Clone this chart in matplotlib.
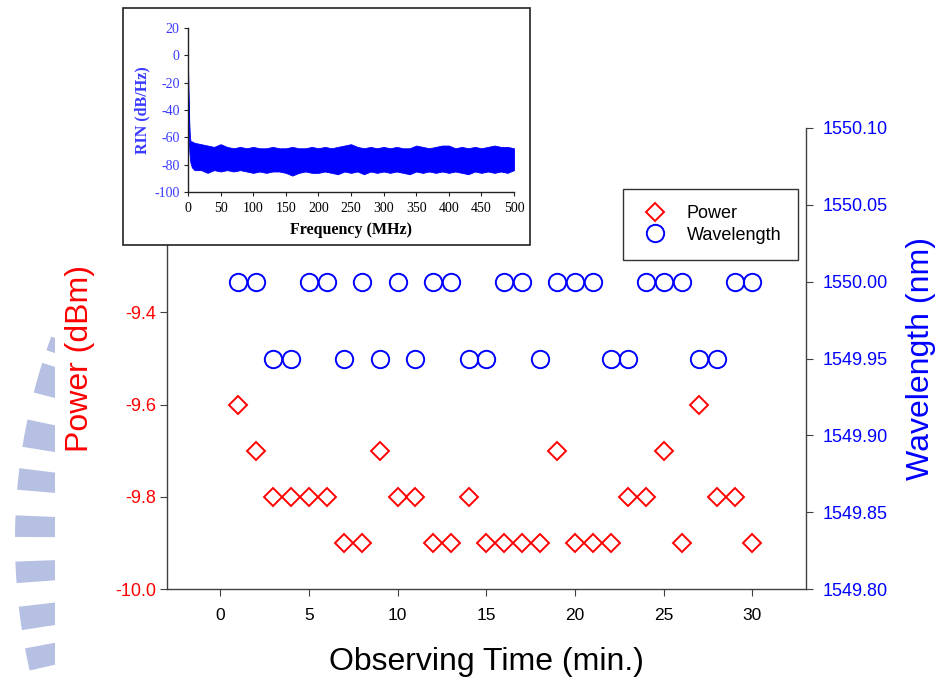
import numpy as np
import matplotlib.pyplot as plt
from matplotlib.patches import Rectangle, Wedge

plt.rcParams['font.family'] = ['Liberation Sans', 'DejaVu Sans']
plt.rcParams['axes.unicode_minus'] = False

# stability record, one reading per minute
time_min = list(range(1, 31))
power_dbm = [-9.6, -9.7, -9.8, -9.8, -9.8, -9.8, -9.9, -9.9, -9.7, -9.8,
             -9.8, -9.9, -9.9, -9.8, -9.9, -9.9, -9.9, -9.9, -9.7, -9.9,
             -9.9, -9.9, -9.8, -9.8, -9.7, -9.9, -9.6, -9.8, -9.8, -9.9]
wavelength_nm = [1550.00, 1550.00, 1549.95, 1549.95, 1550.00, 1550.00, 1549.95, 1550.00,
                 1549.95, 1550.00, 1549.95, 1550.00, 1550.00, 1549.95, 1549.95, 1550.00,
                 1550.00, 1549.95, 1550.00, 1550.00, 1550.00, 1549.95, 1549.95, 1550.00,
                 1550.00, 1550.00, 1549.95, 1549.95, 1550.00, 1550.00]

# RIN spectrum envelope (upper / lower edge of the noise trace)
rin_freq = [0, 1, 2, 3, 4, 6] + list(range(10, 501, 10))
rin_upper = [-8, -30, -50, -60, -63, -63,
             -64, -65, -66, -67, -65, -67, -68, -67, -68, -67,
             -68, -68, -67, -68, -68, -67, -68, -68, -67, -68,
             -67, -68, -67, -66, -65, -67, -68, -67, -68, -67,
             -68, -67, -68, -68, -66, -67, -68, -67, -66, -66,
             -68, -67, -68, -67, -68, -67, -66, -67, -67, -68]
rin_lower = [-20, -60, -70, -76, -79, -82,
             -84, -84, -86, -84, -85, -84, -85, -84, -85, -86,
             -85, -86, -85, -85, -86, -88, -86, -85, -86, -86,
             -85, -86, -87, -85, -86, -85, -87, -85, -86, -85,
             -86, -85, -86, -87, -85, -86, -85, -86, -85, -86,
             -85, -86, -87, -85, -86, -85, -86, -85, -86, -84]

RED = '#ff0000'
BLUE = '#0000ff'
INSET_BLUE = '#3a3aff'
SPINE = '#404040'
SERIF = ['Liberation Serif', 'DejaVu Serif']

fig = plt.figure(figsize=(9.49, 6.79), dpi=100)

# faint logo stripes along the left edge of the page
for a0, a1 in [(159.8, 161.2), (162.5, 165.5), (168.2, 170.9), (173.0, 175.1),
               (177.6, 179.7), (182.1, 184.2), (186.5, 188.8), (190.6, 192.8)]:
    w = Wedge((604, 139), 589, a0, a1, width=60, transform=None,
              facecolor='#b6c0e2', edgecolor='none', zorder=0)
    w.set_clip_path(Rectangle((0, 0), 55, 679, transform=None))
    fig.patches.append(w)

ax = fig.add_axes([0.176, 0.1325, 0.673, 0.679])
ax2 = ax.twinx()
ax.patch.set_alpha(0)

ax.plot(time_min, power_dbm, 'D', ms=9.5, mfc='none', mec=RED, mew=1.4,
        linestyle='none', label='Power')
ax2.plot(time_min, wavelength_nm, 'o', ms=12.5, mfc='none', mec=BLUE, mew=1.4,
         linestyle='none', label='Wavelength')

ax.set_xlim(-3, 33)
ax.set_ylim(-10.0, -9.0)
ax2.set_ylim(1549.80, 1550.10)
ax.set_xticks(range(0, 31, 5))
ax.set_yticks([-10.0, -9.8, -9.6, -9.4])
ax.set_yticklabels(['-10.0', '-9.8', '-9.6', '-9.4'])
wl_ticks = np.arange(1549.80, 1550.11, 0.05)
ax2.set_yticks(wl_ticks)
ax2.set_yticklabels(['%.2f' % v for v in wl_ticks])

for a in (ax, ax2):
    a.spines['top'].set_visible(False)
    for s in a.spines.values():
        s.set_color(SPINE)
        s.set_linewidth(1.0)
ax.spines['right'].set_visible(False)
ax2.spines['left'].set_visible(False)
ax2.spines['bottom'].set_visible(False)

ax.tick_params(axis='x', direction='out', length=5, color=SPINE, labelsize=12.5, pad=9)
ax.tick_params(axis='y', direction='out', length=5, color=SPINE, labelsize=13,
               labelcolor=RED, pad=3)
ax2.tick_params(axis='y', direction='out', length=5, color=SPINE, labelsize=13,
                labelcolor=BLUE, pad=7)

ax.set_xlabel('Observing Time (min.)', fontsize=23, labelpad=17)
ax.set_ylabel('Power (dBm)', fontsize=23, color=RED, labelpad=14)
ax2.set_ylabel('Wavelength (nm)', fontsize=23, color=BLUE, labelpad=13)

h1, l1 = ax.get_legend_handles_labels()
h2, l2 = ax2.get_legend_handles_labels()
leg = ax2.legend(h1 + h2, l1 + l2, loc='upper left', bbox_to_anchor=(0.7136, 0.8677),
                 fontsize=13, frameon=True, fancybox=False, edgecolor='black',
                 handletextpad=0.85, borderpad=0.9, labelspacing=0.25, handlelength=1.8,
                 borderaxespad=0)
leg.get_frame().set_linewidth(1.0)

# inset: RIN spectrum inside its own framed box
fig.patches.append(Rectangle((123 / 949, 1 - 245 / 679), 407 / 949, 237 / 679,
                             transform=fig.transFigure, facecolor='white',
                             edgecolor='#222222', linewidth=1.2, zorder=5))

ins = fig.add_axes([188 / 949, 1 - 192 / 679, 326 / 949, 164 / 679], zorder=6)
ins.fill_between(rin_freq, rin_lower, rin_upper, color=BLUE, linewidth=0.6,
                 edgecolor=BLUE)
ins.set_xlim(0, 500)
ins.set_ylim(-100, 20)
ins.set_xticks(range(0, 501, 50))
ins.set_yticks(range(-100, 21, 20))
ins.spines['top'].set_visible(False)
ins.spines['right'].set_visible(False)
for s in ('left', 'bottom'):
    ins.spines[s].set_color('#222222')
    ins.spines[s].set_linewidth(1.0)
ins.tick_params(direction='out', length=3, width=0.8, color='#222222')
ins.tick_params(axis='x', labelsize=10, pad=4)
ins.tick_params(axis='y', labelsize=10, labelcolor=INSET_BLUE, pad=3)
for lab in ins.get_xticklabels() + ins.get_yticklabels():
    lab.set_family(SERIF)
ins.set_xlabel('Frequency (MHz)', fontsize=11.5, fontweight='bold',
               family=SERIF, labelpad=5)
ins.set_ylabel('RIN (dB/Hz)', fontsize=11.5, fontweight='bold', color=INSET_BLUE,
               family=SERIF, labelpad=3)

plt.savefig('out.png', dpi=100)
